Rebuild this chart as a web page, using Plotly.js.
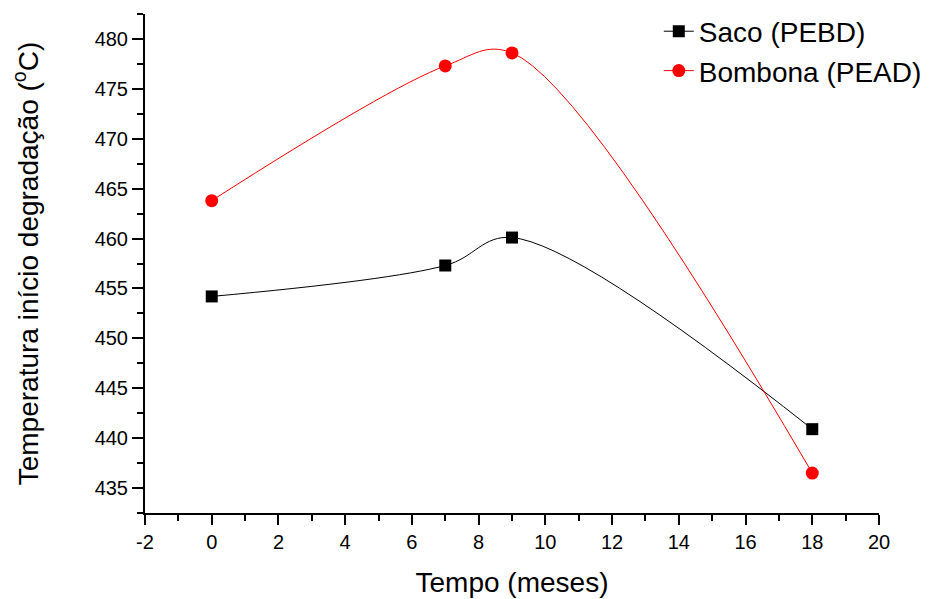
<!DOCTYPE html>
<html>
<head>
<meta charset="utf-8">
<script src="https://cdn.plot.ly/plotly-3.0.1.min.js"></script>
<style>html,body{margin:0;padding:0;background:#fff;}#chart{width:935px;height:599px;}</style>
</head>
<body>
<div id="chart"></div>
<script>
const tempo = [0, 7, 9, 18];
const sacoPEBD = [454.2, 457.3, 460.1, 440.9];
const bombonaPEAD = [463.8, 477.3, 478.6, 436.5];
const seriesNames = ["Saco (PEBD)", "Bombona (PEAD)"];
const xTickVals = [-2, 0, 2, 4, 6, 8, 10, 12, 14, 16, 18, 20];
const xTickText = ["-2", "0", "2", "4", "6", "8", "10", "12", "14", "16", "18", "20"];
const xTitle = "Tempo (meses)";
const yTitle = "Temperatura início degradação (<sup>o</sup>C)";

const font = "Liberation Sans, Arial, sans-serif";

const traces = [
  {
    x: tempo, y: sacoPEBD, name: seriesNames[0], type: "scatter", mode: "lines+markers",
    line: {color: "#000000", width: 1, shape: "spline", smoothing: 1},
    marker: {symbol: "square", size: 12, color: "#000000"},
    legendgroup: "a"
  },
  {
    x: tempo, y: bombonaPEAD, name: seriesNames[1], type: "scatter", mode: "lines+markers",
    line: {color: "#ff0000", width: 1, shape: "spline", smoothing: 1},
    marker: {symbol: "circle", size: 13, color: "#ff0000"},
    legendgroup: "b"
  }
];

const layout = {
  width: 935, height: 599,
  margin: {l: 145, r: 56, t: 14, b: 86, autoexpand: false},
  paper_bgcolor: "#ffffff", plot_bgcolor: "#ffffff",
  font: {family: font, color: "#000000", size: 20},
  showlegend: true,
  legend: {
    x: 0.70, y: 1.015, xanchor: "left", yanchor: "top",
    font: {family: font, size: 28, color: "#000000"},
    bgcolor: "rgba(0,0,0,0)", traceorder: "grouped", tracegroupgap: 0
  },
  xaxis: {
    range: [-2, 20], tickmode: "array", tickvals: xTickVals, ticktext: xTickText,
    showgrid: false, zeroline: false,
    showline: true, linecolor: "#000000", linewidth: 2,
    ticks: "outside", ticklen: 10, tickwidth: 2, tickcolor: "#000000",
    tickfont: {family: font, size: 20},
    minor: {dtick: 1, tick0: 0, ticks: "outside", ticklen: 6, tickwidth: 2, tickcolor: "#000000", showgrid: false},
    title: {text: xTitle, font: {family: font, size: 28}, standoff: 20}
  },
  yaxis: {
    range: [432.5, 482.5], dtick: 5, tick0: 435,
    showgrid: false, zeroline: false,
    showline: true, linecolor: "#000000", linewidth: 2,
    ticks: "outside", ticklen: 11, tickwidth: 2, tickcolor: "#000000",
    tickfont: {family: font, size: 20},
    minor: {dtick: 2.5, ticks: "outside", ticklen: 6, tickwidth: 2, tickcolor: "#000000", showgrid: false},
    title: {text: yTitle, font: {family: font, size: 28}, standoff: 48}
  }
};

Plotly.newPlot("chart", traces, layout, {displayModeBar: false, staticPlot: true});
</script>
</body>
</html>
